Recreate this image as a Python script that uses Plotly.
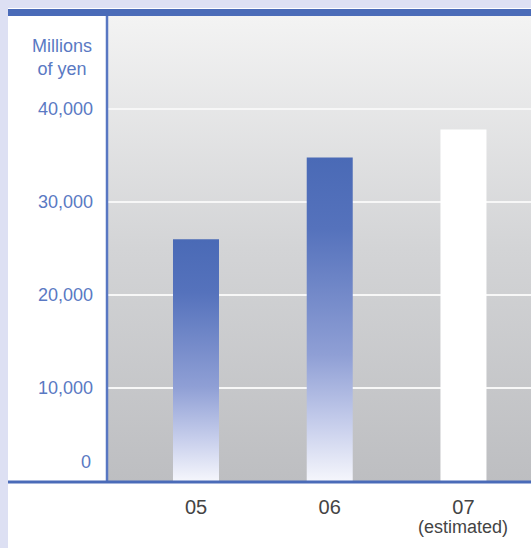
import base64
import plotly.graph_objects as go

# ---- data ----
years = ["05", "06", "07"]
year_notes = ["", "", "(estimated)"]
values = [26000, 34800, 37800]           # millions of yen
estimated = [False, False, True]
y_ticks = [0, 10000, 20000, 30000, 40000]
y_tick_labels = ["0", "10,000", "20,000", "30,000", "40,000"]
unit_label = "Millions<br>of yen"

# ---- styles ----
FONT = "Liberation Sans, Arial, sans-serif"
BLUE = "#4a6bb8"
LINE_BLUE = "#5877c2"
TICK_BLUE = "#5a79c3"
LAVENDER = "#dde0f3"
W, H = 531, 548
ML, MR, MT, MB = 108, 0, 16, 66
PW, PH = W - ML - MR, H - MT - MB


def px_x(p):
    return (p - ML) / PW


def px_y(p):
    return (H - MB - p) / PH


bar_scale = [[0.0, "#f5f6fc"], [0.17, "#c8cfec"], [0.39, "#8f9fd5"],
             [0.78, "#5572bc"], [1.0, "#4a6ab6"]]
half_w = 0.172

fig = go.Figure()
for i, (v, est) in enumerate(zip(values, estimated)):
    xs = [i - half_w, i + half_w, i + half_w, i - half_w, i - half_w]
    ys = [0, 0, v, v, 0]
    tr = dict(x=xs, y=ys, mode="none", fill="toself", showlegend=False,
              hoverinfo="skip")
    if est:
        tr["fillcolor"] = "#ffffff"
    else:
        tr["fillgradient"] = dict(type="vertical", colorscale=bar_scale)
    fig.add_trace(go.Scatter(**tr))

# background gradient as svg image
svg = ('<svg xmlns="http://www.w3.org/2000/svg" width="10" height="100" '
       'preserveAspectRatio="none"><defs><linearGradient id="g" x1="0" y1="0" '
       'x2="0" y2="1"><stop offset="0" stop-color="#f3f3f3"/>'
       '<stop offset="0.5" stop-color="#d3d4d6"/>'
       '<stop offset="1" stop-color="#bdbec1"/></linearGradient></defs>'
       '<rect width="10" height="100" fill="url(#g)"/></svg>')
src = "data:image/svg+xml;base64," + base64.b64encode(svg.encode()).decode()

shapes = [
    # lavender frame strips
    dict(type="rect", xref="paper", yref="paper", x0=px_x(0), x1=px_x(8),
         y0=px_y(H), y1=px_y(0), fillcolor=LAVENDER, line_width=0),
    dict(type="rect", xref="paper", yref="paper", x0=px_x(0), x1=1,
         y0=px_y(8), y1=px_y(0), fillcolor=LAVENDER, line_width=0),
    # top blue bar
    dict(type="rect", xref="paper", yref="paper", x0=px_x(8), x1=1,
         y0=px_y(16), y1=px_y(9), fillcolor=BLUE, line_width=0),
    # left vertical line
    dict(type="line", xref="paper", yref="paper", x0=px_x(107), x1=px_x(107),
         y0=0, y1=1, line=dict(color=LINE_BLUE, width=2.5)),
    # bottom baseline
    dict(type="line", xref="paper", yref="paper", x0=px_x(8), x1=1,
         y0=px_y(482), y1=px_y(482), line=dict(color=BLUE, width=3)),
]

annotations = [
    dict(text=unit_label, xref="paper", yref="paper", x=px_x(62), y=px_y(57),
         xanchor="center", yanchor="middle", showarrow=False,
         font=dict(family=FONT, size=18, color=TICK_BLUE)),
    # zero label sits raised above the baseline
    dict(text=y_tick_labels[0], xref="paper", yref="y", x=px_x(93),
         y=y_ticks[0], xanchor="right", yanchor="middle", yshift=19,
         showarrow=False, font=dict(family=FONT, size=18, color=TICK_BLUE)),
]
for i, note in enumerate(year_notes):
    if note:
        annotations.append(dict(text=note, xref="x", yref="paper", x=i,
                                y=px_y(527), xanchor="center", yanchor="middle",
                                showarrow=False,
                                font=dict(family=FONT, size=18, color="#444444")))

fig.update_layout(
    width=W, height=H,
    margin=dict(l=ML, r=MR, t=MT, b=MB, pad=0),
    paper_bgcolor="#ffffff",
    plot_bgcolor="#d6d7d9",
    shapes=shapes,
    annotations=annotations,
    images=[dict(source=src, xref="paper", yref="paper", x=0, y=1,
                 sizex=1, sizey=1, xanchor="left", yanchor="top",
                 sizing="stretch", layer="below")],
    xaxis=dict(range=[-0.658, 2.505], tickvals=list(range(len(years))),
               ticktext=years, showgrid=False, zeroline=False, ticks="",
               ticklabelstandoff=11, showline=False,
               tickfont=dict(family=FONT, size=20, color="#444444")),
    yaxis=dict(range=[-100, 50000], tickvals=y_ticks[1:],
               ticktext=y_tick_labels[1:], showgrid=True, gridcolor="#f7f7f7",
               gridwidth=2, zeroline=False, ticks="", ticklabelstandoff=14,
               showline=False,
               tickfont=dict(family=FONT, size=18, color=TICK_BLUE)),
)

fig.write_html("out.html")
